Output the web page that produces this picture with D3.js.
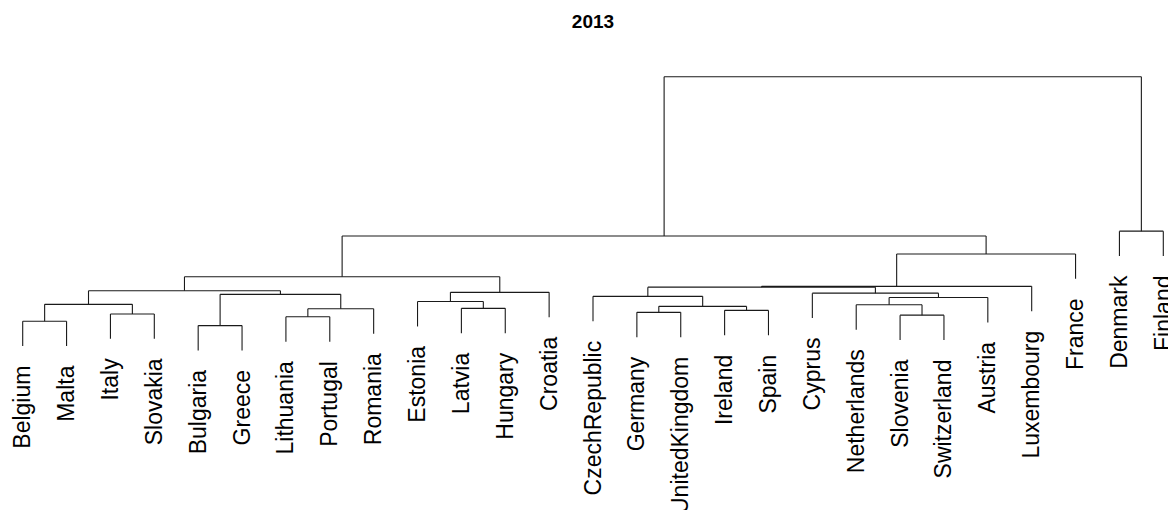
<!DOCTYPE html>
<html>
<head>
<meta charset="utf-8">
<script src="https://cdn.jsdelivr.net/npm/d3@7/dist/d3.min.js"></script>
<style>
  html, body { margin: 0; padding: 0; background: #fff; }
  svg { display: block; }
  text { font-family: "Liberation Sans", Arial, sans-serif; fill: #000; }
</style>
</head>
<body>
<svg id="chart" width="1168" height="510"></svg>
<script>
// Leaf labels in dendrogram order (left to right)
const leaves = ["Belgium", "Malta", "Italy", "Slovakia", "Bulgaria", "Greece",
  "Lithuania", "Portugal", "Romania", "Estonia", "Latvia", "Hungary", "Croatia",
  "CzechRepublic", "Germany", "UnitedKingdom", "Ireland", "Spain", "Cyprus",
  "Netherlands", "Slovenia", "Switzerland", "Austria", "Luxembourg", "France",
  "Denmark", "Finland"];

// Agglomeration steps: each joins two members (a leaf name or an earlier step number)
const mergeLeft = ["Bulgaria", "Belgium", "Lithuania", "Slovenia", "Italy", "Germany",
  "Ireland", 3, "Latvia", 6, "Netherlands", 2, "Estonia", 11, "CzechRepublic", 1,
  "Cyprus", 13, 12, 15, 20, 19, 21, 22, "Denmark", 24];
const mergeRight = ["Greece", "Malta", "Portugal", "Switzerland", "Slovakia", "UnitedKingdom",
  "Spain", "Romania", "Hungary", 7, 4, 5, 9, "Austria", 10, 8,
  14, "Croatia", 16, 17, "Luxembourg", 18, "France", 23, "Finland", 25];
const mergeHeight = [1.86, 1.97, 2.08, 2.12, 2.15, 2.19, 2.24, 2.28, 2.29, 2.34,
  2.38, 2.39, 2.46, 2.56, 2.59, 2.64, 2.67, 2.69, 2.73, 2.82,
  2.84, 3.08, 3.65, 4.10, 4.22, 8.08];

const title = "2013";

// Build a nested tree from the merge steps
const steps = [];
function member(ref) {
  return typeof ref === "number" ? steps[ref - 1] : { name: ref, height: 0 };
}
mergeLeft.forEach((l, i) => {
  steps.push({ height: mergeHeight[i], children: [member(l), member(mergeRight[i])] });
});
const root = d3.hierarchy(steps[steps.length - 1]);

const svg = d3.select("#chart");

const x = d3.scalePoint().domain(leaves).range([22.7, 1163.3]);
const y = d3.scaleLinear().domain([0, d3.max(mergeHeight)]).range([400, 76.7]);
const hang = 0.1 * (d3.max(mergeHeight) - d3.min(mergeHeight));

// Horizontal position: leaves from the scale, merges at the midpoint of their children
root.eachAfter(n => {
  n.px = n.children ? (n.children[0].px + n.children[1].px) / 2 : x(n.data.name);
});

const g = svg.append("g")
  .attr("fill", "none")
  .attr("stroke", "#1a1a1a")
  .attr("stroke-width", 1.1);

root.each(n => {
  if (!n.children) return;
  const hy = y(n.data.height);
  const [a, b] = n.children;
  g.append("line").attr("x1", a.px).attr("x2", b.px).attr("y1", hy).attr("y2", hy);
  n.children.forEach(c => {
    const cy = c.children ? y(c.data.height) : y(n.data.height - hang);
    c.bottom = cy;
    g.append("line").attr("x1", c.px).attr("x2", c.px).attr("y1", hy).attr("y2", cy);
  });
});

// Rotated leaf labels hanging under each leaf
svg.append("g").selectAll("text")
  .data(root.leaves())
  .join("text")
  .attr("transform", d => `translate(${d.px + 7.5},${d.bottom + 19.5}) rotate(-90)`)
  .attr("text-anchor", "end")
  .style("font-size", "23px")
  .text(d => d.data.name);

svg.append("text")
  .attr("x", 593)
  .attr("y", 28)
  .attr("text-anchor", "middle")
  .style("font-size", "19px")
  .style("font-weight", "bold")
  .text(title);
</script>
</body>
</html>
